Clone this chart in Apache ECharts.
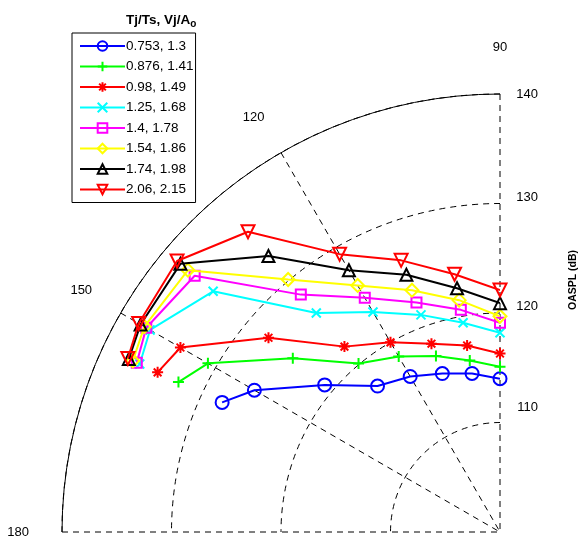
<!DOCTYPE html>
<html>
<head>
<meta charset="utf-8">
<script src="https://cdn.jsdelivr.net/npm/echarts@6/dist/echarts.min.js"></script>
<style>html,body{margin:0;padding:0;background:#fff}#c{width:584px;height:538px}</style>
</head>
<body>
<div id="c"></div>
<script>
// Polar angles (degrees)
const angles = [90, 100, 110, 120, 130, 140, 150, 155];
// Legend labels
const seriesNames = ['0.753, 1.3', '0.876, 1.41', '0.98, 1.49', '1.25, 1.68', '1.4, 1.78', '1.54, 1.86', '1.74, 1.98', '2.06, 2.15'];
// OASPL (dB) values at each angle
const s1 = [114.0, 114.7, 115.4, 116.4, 117.4, 120.9, 125.9, 128.0];
const s2 = [115.1, 115.9, 117.1, 118.5, 120.1, 124.7, 130.8, 132.4];
const s3 = [116.3, 117.3, 118.3, 120.0, 122.1, 127.6, 133.7, 134.5];
const s4 = [118.2, 119.4, 121.1, 123.2, 126.1, 134.2, 136.9, 136.3];
const s5 = [119.1, 120.6, 122.3, 124.7, 128.3, 136.4, 137.3, 136.6];
const s6 = [119.7, 121.5, 123.5, 126.0, 130.1, 137.2, 137.5, 137.0];
const s7 = [120.9, 122.6, 125.0, 127.6, 132.9, 138.1, 137.9, 137.4];
const s8 = [122.1, 123.9, 126.4, 129.3, 135.8, 138.5, 138.1, 137.5];
const allValues = [s1, s2, s3, s4, s5, s6, s7, s8];
// Axis tick values
const radiusTicks = [110, 120, 130, 140];
const angleTicks = [90, 120, 150, 180];

const colors = ['#0000ff', '#00ff00', '#ff0000', '#00ffff', '#ff00ff', '#ffff00', '#000000', '#ff0000'];
const symbols = [
  'circle',
  'path://M0,5L10,5M5,0L5,10',
  'path://M5,0L5,10M0,5L10,5M1.5,1.5L8.5,8.5M8.5,1.5L1.5,8.5',
  'path://M0,0L10,10M10,0L0,10',
  'rect',
  'diamond',
  'triangle',
  'triangle'
];
const sizes = [13, 11, 11, 9, 10, 13, 12, 13];
const rotates = [0, 0, 0, 0, 0, 0, 0, 180];

const FONT = 'Liberation Sans, Arial, sans-serif';

const series = allValues.map((vals, i) => ({
  name: seriesNames[i],
  type: 'line',
  coordinateSystem: 'polar',
  data: vals.map((v, j) => [v, angles[j]]),
  symbol: symbols[i],
  symbolSize: sizes[i],
  symbolRotate: rotates[i],
  showAllSymbol: true,
  lineStyle: { color: colors[i], width: 2 },
  itemStyle: { color: 'rgba(0,0,0,0)', borderColor: colors[i], borderWidth: 2 },
  emphasis: { disabled: true },
  animation: false,
  z: 3 + i
}));

const lblStyle = (pb) => ({ fontFamily: FONT, fontSize: 13, color: '#000', padding: [0, 0, pb, 0] });

const chart = echarts.init(document.getElementById('c'), null, { renderer: 'canvas' });
chart.setOption({
  backgroundColor: '#ffffff',
  animation: false,
  title: {
    text: 'Tj/Ts, Vj/A{sub|o}',
    left: 121,
    top: 7,
    textStyle: {
      fontFamily: FONT, fontSize: 13.5, fontWeight: 'bold', color: '#000',
      rich: { sub: { fontFamily: FONT, fontSize: 10, fontWeight: 'bold', color: '#000', verticalAlign: 'bottom', padding: [7, 0, 0, 0] } }
    }
  },
  legend: {
    orient: 'vertical',
    left: 72,
    top: 33,
    width: 122,
    padding: [6, 2, 6, 7],
    itemWidth: 45,
    itemHeight: 12,
    itemGap: 6.5,
    borderColor: '#000',
    borderWidth: 1,
    backgroundColor: '#fff',
    textStyle: { fontFamily: FONT, fontSize: 13.5, color: '#000', padding: [0, 0, 0, -4] },
    data: seriesNames.map((n) => ({ name: n }))
  },
  polar: { center: [500, 532], radius: 438 },
  angleAxis: {
    type: 'value',
    min: 90,
    max: 180,
    interval: 30,
    startAngle: 90,
    endAngle: 180,
    clockwise: false,
    axisLine: { show: true, lineStyle: { color: '#000', width: 1 } },
    axisTick: { show: false },
    axisLabel: {
      show: true, margin: 33, fontFamily: FONT, fontSize: 13, color: '#000',
      formatter: (v) => (angleTicks.indexOf(v) < 0 ? '' : (v === 90 ? '{up|' + v + '}' : String(v))),
      rich: { up: lblStyle(7) }
    },
    splitLine: { show: true, lineStyle: { color: '#000', width: 1, type: [6, 5] } }
  },
  radiusAxis: {
    type: 'value',
    min: 100,
    max: 140,
    interval: 10,
    axisLine: { show: false },
    axisTick: { show: false },
    axisLabel: {
      show: true, margin: -38, fontFamily: FONT, fontSize: 13, color: '#000',
      verticalAlign: 'middle',
      formatter: (v) => (radiusTicks.indexOf(v) < 0 ? '' : '{r' + v + '|' + v + '}'),
      rich: { r140: lblStyle(0), r130: lblStyle(12), r120: lblStyle(14), r110: lblStyle(30) }
    },
    splitLine: { show: true, lineStyle: { color: '#000', width: 1, type: [6, 5] } }
  },
  graphic: [{
    type: 'text',
    x: 573,
    y: 280,
    rotation: Math.PI / 2,
    style: { text: 'OASPL (dB)', fontFamily: FONT, fontSize: 10.5, fontWeight: 'bold', fill: '#000', align: 'center', verticalAlign: 'middle' }
  }],
  series: series
});
</script>
</body>
</html>
